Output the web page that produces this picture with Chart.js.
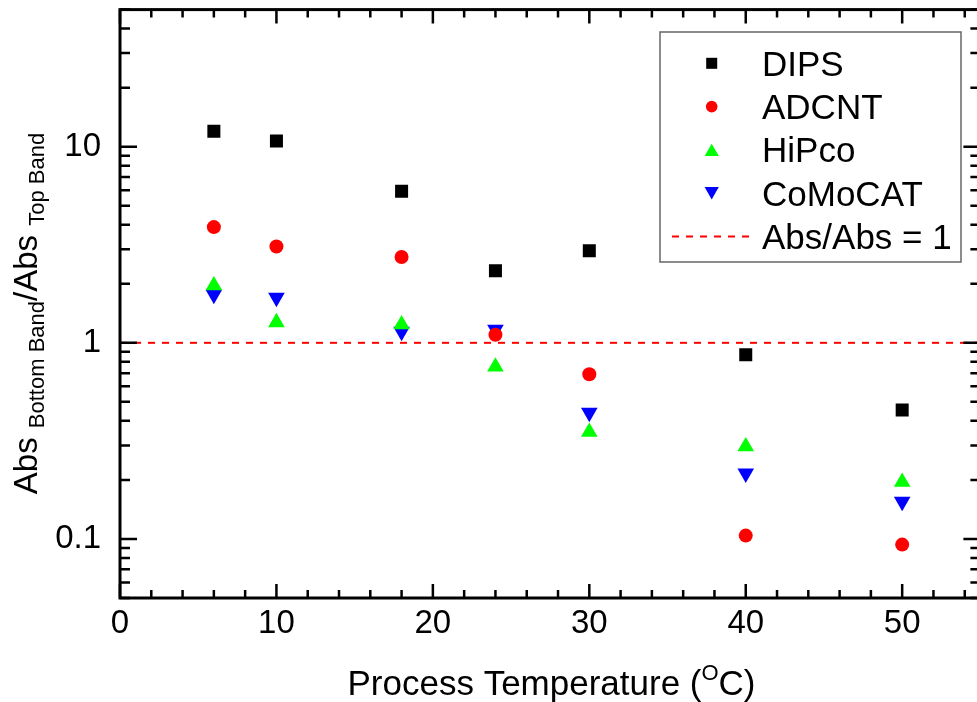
<!DOCTYPE html>
<html lang="en">
<head>
<meta charset="UTF-8">
<title>Abs ratio vs process temperature</title>
<script src="https://cdn.jsdelivr.net/npm/chart.js"></script>
<style>
    html, body {
        margin: 0;
        padding: 0;
        background: #fff;
        overflow: hidden;
    }
    canvas { display: block; }
</style>
</head>
<body>
<canvas id="ratioChart" width="990" height="702"></canvas>
<script>
    // data
    const temps = [6, 10, 18, 24, 30, 40, 50];
    const dips = [12.0, 10.7, 5.93, 2.33, 2.95, 0.869, 0.455];
    const adcnt = [3.89, 3.10, 2.74, 1.10, 0.691, 0.104, 0.0936];
    const hipco = [1.96, 1.27, 1.24, 0.755, 0.351, 0.296, 0.195];
    const comocat = [1.76, 1.70, 1.14, 1.17, 0.441, 0.216, 0.155];
    const refX = [0, 55];
    const refY = [1, 1];
    const xTicks = [0, 10, 20, 30, 40, 50];
    const yTicks = [0.1, 1, 10];

    const FONT = '"Liberation Sans", Arial, Helvetica, sans-serif';

    const pts = vals => temps.map((t, i) => ({ x: t, y: vals[i] }));

    function drawMarker(ctx, style, x, y, r, color, rot) {
        ctx.save();
        ctx.fillStyle = color;
        ctx.beginPath();
        if (style === 'rect') {
            const s = Math.SQRT1_2 * r;
            ctx.rect(x - s, y - s, 2 * s, 2 * s);
        } else if (style === 'circle') {
            ctx.arc(x, y, r, 0, Math.PI * 2);
        } else {
            let a = (rot || 0) * Math.PI / 180;
            ctx.moveTo(x + Math.sin(a) * r, y - Math.cos(a) * r);
            for (let k = 0; k < 2; k++) {
                a += Math.PI * 2 / 3;
                ctx.lineTo(x + Math.sin(a) * r, y - Math.cos(a) * r);
            }
            ctx.closePath();
        }
        ctx.fill();
        ctx.restore();
    }

    // box, inward ticks, titles with sub/superscripts
    const framePlugin = {
        id: 'frame',
        afterDraw(chart) {
            const { ctx, chartArea: a, scales: { x, y } } = chart;
            ctx.save();
            ctx.strokeStyle = '#000';
            ctx.lineWidth = 2.5;
            ctx.beginPath();
            for (let v = 0; v <= 55; v += 2) {
                const px = x.getPixelForValue(v);
                ctx.moveTo(px, a.bottom); ctx.lineTo(px, a.bottom - 8);
                ctx.moveTo(px, a.top); ctx.lineTo(px, a.top + 8);
            }
            for (const v of xTicks) {
                const px = x.getPixelForValue(v);
                ctx.moveTo(px, a.bottom); ctx.lineTo(px, a.bottom - 14);
                ctx.moveTo(px, a.top); ctx.lineTo(px, a.top + 14);
            }
            for (const d of [0.01, 0.1, 1, 10]) {
                for (let k = 1; k <= 9; k++) {
                    const v = d * k;
                    if (v < 0.05 * 0.999 || v > 50 * 1.001) continue;
                    const py = y.getPixelForValue(v);
                    const len = k === 1 ? 17 : 10;
                    ctx.moveTo(a.left, py); ctx.lineTo(a.left + len, py);
                    ctx.moveTo(a.right, py); ctx.lineTo(a.right - len, py);
                }
            }
            ctx.stroke();
            ctx.lineWidth = 3;
            ctx.strokeRect(a.left, a.top, a.right - a.left, a.bottom - a.top);

            // x title
            ctx.fillStyle = '#000';
            ctx.textBaseline = 'alphabetic';
            const partsX = [['Process Temperature (', '35px ' + FONT, 0], ['O', '22px ' + FONT, -15], ['C)', '35px ' + FONT, 0]];
            let w = 0;
            for (const [t, f] of partsX) { ctx.font = f; w += ctx.measureText(t).width; }
            let cx = 551.5 - w / 2;
            for (const [t, f, dy] of partsX) {
                ctx.font = f;
                ctx.fillText(t, cx, 695 + dy);
                cx += ctx.measureText(t).width;
            }

            // y title
            ctx.translate(37, 313.5);
            ctx.rotate(-Math.PI / 2);
            const big = '33px ' + FONT, small = '22px ' + FONT;
            const partsY = [['Abs ', big, 0], ['Bottom Band', small, 7], ['/Abs ', big, 0], ['Top Band', small, 7]];
            w = 0;
            for (const [t, f] of partsY) { ctx.font = f; w += ctx.measureText(t).width; }
            cx = -w / 2;
            for (const [t, f, dy] of partsY) {
                ctx.font = f;
                ctx.fillText(t, cx, dy);
                cx += ctx.measureText(t).width;
            }
            ctx.restore();
        }
    };

    const legendPlugin = {
        id: 'boxLegend',
        afterDraw(chart) {
            const ctx = chart.ctx;
            const box = { l: 660, t: 32, r: 961, b: 262 };
            ctx.save();
            ctx.fillStyle = '#fff';
            ctx.fillRect(box.l, box.t, box.r - box.l, box.b - box.t);
            ctx.strokeStyle = '#666';
            ctx.lineWidth = 1.5;
            ctx.strokeRect(box.l, box.t, box.r - box.l, box.b - box.t);
            ctx.font = '35px ' + FONT;
            ctx.textBaseline = 'alphabetic';
            chart.data.datasets.forEach((ds, i) => {
                const cy = 63.3 + i * 43.3;
                if (ds.showLine) {
                    ctx.save();
                    ctx.strokeStyle = ds.borderColor;
                    ctx.lineWidth = ds.borderWidth;
                    ctx.setLineDash(ds.borderDash);
                    ctx.beginPath();
                    ctx.moveTo(672, cy); ctx.lineTo(752, cy);
                    ctx.stroke();
                    ctx.restore();
                } else {
                    const r = ds.pointStyle === 'triangle' ? 8.2 : (ds.pointStyle === 'rect' ? 7.8 : 5.8);
                    const off = ds.pointStyle === 'triangle' ? (ds.pointRotation ? -2 : 2) : 0;
                    drawMarker(ctx, ds.pointStyle, 711.7, cy + off, r, ds.pointBackgroundColor, ds.pointRotation);
                }
                ctx.fillStyle = '#000';
                ctx.fillText(ds.label, 762, cy + 12.5);
            });
            ctx.restore();
        }
    };

    function marker(label, vals, style, color, r, rot) {
        return {
            label: label,
            data: pts(vals),
            pointStyle: style,
            pointRotation: rot || 0,
            pointRadius: r,
            pointHoverRadius: r,
            pointBackgroundColor: color,
            pointBorderColor: color,
            pointBorderWidth: 0,
            showLine: false
        };
    }

    function fixSize(prop, size) {
        return s => {
            s[prop] = size;
            s.paddingTop = 0;
            s.paddingBottom = 0;
            s.paddingLeft = 0;
            s.paddingRight = 0;
        };
    }

    const ctx = document.getElementById('ratioChart').getContext('2d');
    const chart = new Chart(ctx, {
        type: 'scatter',
        data: {
            datasets: [
                marker('DIPS', dips, 'rect', '#000000', 9.2),
                marker('ADCNT', adcnt, 'circle', '#ff0000', 7),
                marker('HiPco', hipco, 'triangle', '#00ff00', 9.6),
                marker('CoMoCAT', comocat, 'triangle', '#0000ff', 9.6, 180),
                {
                    label: 'Abs/Abs = 1',
                    type: 'line',
                    data: refX.map((v, i) => ({ x: v, y: refY[i] })),
                    showLine: true,
                    borderColor: '#ff0000',
                    borderWidth: 2,
                    borderDash: [7, 7],
                    pointRadius: 0,
                    fill: false
                }
            ]
        },
        options: {
            responsive: false,
            animation: false,
            events: [],
            layout: { padding: { top: 8, right: 8, left: 0, bottom: 0 } },
            plugins: {
                legend: { display: false },
                tooltip: { enabled: false }
            },
            scales: {
                x: {
                    type: 'linear',
                    min: 0,
                    max: 55,
                    grid: { display: false, drawTicks: false },
                    border: { display: false },
                    ticks: {
                        font: { family: FONT, size: 33 },
                        color: '#000',
                        padding: 6,
                        maxRotation: 0,
                        autoSkip: false
                    },
                    afterBuildTicks: s => { s.ticks = xTicks.map(v => ({ value: v })); },
                    afterFit: fixSize('height', 104)
                },
                y: {
                    type: 'logarithmic',
                    min: 0.05,
                    max: 50,
                    grid: { display: false, drawTicks: false },
                    border: { display: false },
                    ticks: {
                        font: { family: FONT, size: 33 },
                        color: '#000',
                        padding: 19,
                        autoSkip: false,
                        callback: v => String(v)
                    },
                    afterBuildTicks: s => { s.ticks = yTicks.map(v => ({ value: v })); },
                    afterFit: fixSize('width', 120)
                }
            }
        },
        plugins: [framePlugin, legendPlugin]
    });
</script>
</body>
</html>
